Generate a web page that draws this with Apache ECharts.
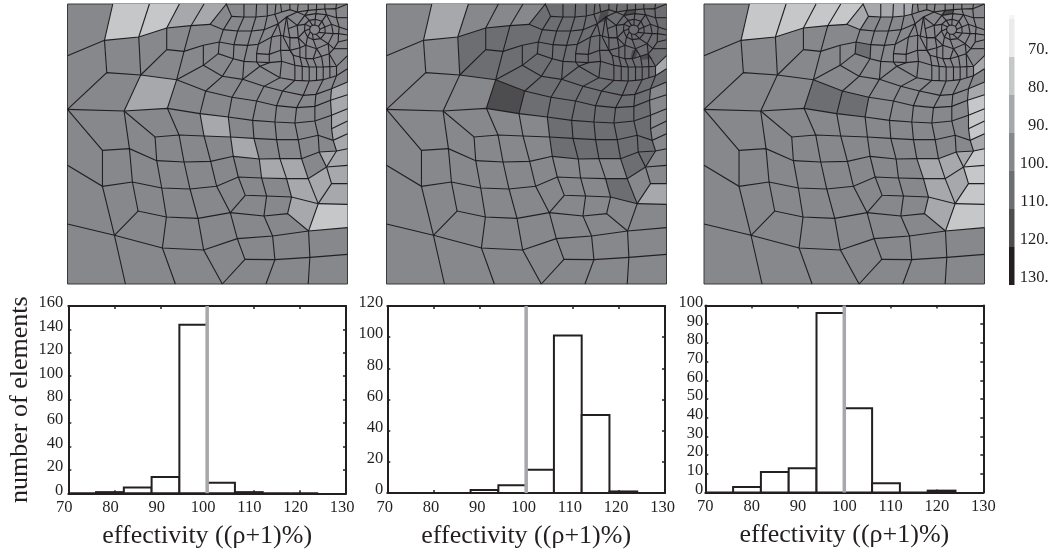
<!DOCTYPE html>
<html><head><meta charset="utf-8">
<style>html,body{margin:0;padding:0;background:#fff}#c{width:1055px;height:551px}</style>
<script src="https://cdn.jsdelivr.net/npm/echarts@6/dist/echarts.min.js"></script>
</head><body><div id="c"></div>
<script>
// ---- data ----
const bandValues = [70, 80, 90, 100, 110, 120, 130];
const bandColors = ['#ebebec', '#c6c7c9', '#a7a8ab', '#87888b', '#6d6e71', '#4d4d4f', '#231f20'];
const xTicks = [70, 130, 10];
const binEdges = [70, 76, 82, 88, 94, 100, 106, 112, 118, 124];
const counts1 = [0, 1, 5, 14, 144, 9, 1, 0, 0];
const counts2 = [0, 0, 0, 2, 5, 15, 101, 50, 1];
const counts3 = [0, 3, 11, 13, 96, 45, 5, 0, 1];
const yMax = [160, 120, 100];
const yStep = [20, 20, 10];
const xTitle = 'effectivity ((\u03c1+1)%)';
const yTitle = 'number of elements';

const meshRows = [
 [[22,166],[133,120],[236,110],[320,83],[393,76],[450,72],[490,88],[533,92],[575,92],[613,88],[655,70],[680,50]],
 [[515,48],[552,50],[588,50],[622,47],[645,42],[665,35],[690,28],[712,35]],
 [[320,148],[372,153],[430,135],[478,125],[522,133],[563,135],[595,132],[635,110],[663,105],[690,112],[715,112]],
 [[242,224],[320,148]],
 [[350,238],[430,195],[475,160],[520,175],[552,183],[590,185],[628,187],[665,183],[705,195],[727,198],[748,200],[770,200],[790,200],[810,199],[830,198],[863,166]],
 [[22,327],[140,217],[242,224],[350,238],[437,272],[516,291],[590,302],[650,316],[710,322],[765,318],[812,300],[863,283]],
 [[430,195],[487,228],[548,237],[600,198],[628,187]],
 [[548,237],[612,258],[668,272],[730,285],[768,282],[815,265],[863,245]],
 [[600,198],[660,232],[705,240],[727,241],[748,242],[770,240],[790,238],[810,232],[830,226],[863,205]],
 [[668,272],[705,240]],
 [[22,327],[192,332],[322,324],[420,340],[505,350],[578,360],[645,365],[705,368],[765,362],[815,345],[863,325]],
 [[192,332],[285,410],[357,404],[432,407],[512,410],[582,414],[650,418],[715,418],[775,405],[820,420],[863,400]],
 [[22,327],[127,450],[208,445],[290,481],[372,485],[452,483],[520,468],[598,476],[660,475],[725,475],[778,455],[830,452],[863,445]],
 [[22,495],[127,558],[217,545],[305,563],[390,566],[470,558],[535,530],[605,533],[680,535],[745,535],[800,500],[863,495]],
 [[535,530],[556,585],[620,587],[695,590],[775,610],[863,612]],
 [[163,705],[234,632],[319,650],[414,654],[511,637],[612,647],[683,640],[746,692]],
 [[22,671],[163,705],[307,743],[431,749],[532,715],[638,707],[746,692],[863,682]],
 [[555,777],[645,778],[750,771],[863,762]],
 [[815,385],[863,362]],
 [[775,610],[815,550],[863,550]],
 [[511,637],[556,585]],
 [[590,160],[628,162],[662,150],[690,150],[720,142],[738,135]]
];
const meshColumns = [
 [[133,120],[158,11]], [[236,110],[268,11]], [[320,83],[358,11]], [[393,76],[432,11]],
 [[450,72],[499,11],[515,48],[490,88],[478,125],[475,160]],
 [[133,120],[140,217]], [[236,110],[242,224],[192,332]], [[320,83],[320,148]],
 [[393,76],[372,153],[350,238],[322,324],[357,404],[372,485],[390,566],[414,654],[431,749],[487,851]],
 [[430,135],[430,195]],
 [[192,332],[208,445],[217,545],[234,632]],
 [[127,450],[127,558],[163,705],[196,851]],
 [[285,410],[290,481],[305,563],[319,650],[307,743],[346,851]],
 [[437,272],[420,340],[432,407],[452,483],[470,558],[511,637],[532,715],[555,777],[487,851]],
 [[437,272],[487,228],[520,175],[522,133],[533,92],[552,50],[552,11]],
 [[516,291],[505,350],[512,410],[520,468],[535,530]],
 [[516,291],[548,237],[552,183],[563,135],[575,92],[588,50],[590,11]],
 [[590,302],[578,360],[582,414],[598,476],[605,533],[620,587],[612,647],[638,707],[645,778],[618,851]],
 [[590,302],[612,258],[660,232],[665,183],[662,150],[663,105],[655,70],[645,42],[648,11]],
 [[600,198],[590,185],[590,160],[595,132],[613,88],[622,47],[622,11]],
 [[650,316],[645,365],[650,418],[660,475],[680,535],[695,590],[683,640]],
 [[650,316],[668,272]],
 [[628,187],[628,162],[635,110],[655,70]],
 [[710,322],[705,368],[715,418],[725,475],[745,535],[775,610],[746,692],[750,771],[745,851]],
 [[710,322],[730,285],[748,242],[748,200],[738,175],[738,135]],
 [[765,318],[765,362],[775,405],[778,455],[800,500],[815,550]],
 [[765,318],[768,282],[790,238],[790,200],[785,168],[770,145]],
 [[800,500],[830,452],[820,420],[815,385],[815,345],[812,300],[815,265],[830,226],[830,198],[808,160]],
 [[705,240],[705,195],[700,165],[690,150],[690,112],[685,85],[680,50]],
 [[727,241],[727,198],[720,170],[720,142],[715,112]],
 [[770,240],[770,200],[760,175]],
 [[810,232],[810,199],[808,160]],
 [[665,35],[662,11]], [[690,28],[690,11]], [[745,30],[745,11]], [[795,26],[795,11]],
 [[712,35],[715,11]], [[770,28],[770,11]], [[828,25],[830,11]],
 [[828,25],[863,11]], [[838,80],[863,88]], [[835,125],[863,118]], [[830,52],[863,52]], [[836,100],[863,104]], [[822,145],[863,145]]
];
const hubRings = [
 [[765,74],[776,78],[780,87],[777,96],[769,102],[758,101],[751,95],[749,86],[752,79],[758,75],[765,74]],
 [[766,57],[786,63],[795,80],[796,98],[782,115],[760,118],[743,110],[734,92],[735,72],[748,60],[766,57]],
 [[768,40],[800,43],[815,72],[820,100],[805,130],[770,145],[738,135],[715,112],[712,75],[735,45],[768,40]],
 [[770,28],[795,26],[828,25],[830,52],[838,80],[836,100],[835,125],[822,145],[808,160],[785,168],[760,175],[738,175],[720,170],[700,165],[690,150],[670,110],[680,50],[712,35],[745,30],[770,28]]
];
const hubSpokes = [
 [[765,74],[766,57],[768,40],[770,28]], [[776,78],[786,63],[800,43],[795,26]],
 [[780,87],[795,80],[815,72],[838,80]], [[777,96],[796,98],[820,100],[836,100]],
 [[769,102],[782,115],[805,130],[822,145]], [[758,101],[760,118],[770,145],[760,175]],
 [[751,95],[743,110],[738,135]], [[749,86],[734,92],[715,112],[690,112]],
 [[752,79],[735,72],[712,75],[685,85]], [[758,75],[748,60],[735,45],[712,35]],
 [[800,43],[830,52]], [[805,130],[808,160]], [[735,45],[745,30]], [[712,75],[680,50]]
];
const cells1 = [
 [80,[[158,11],[268,11],[236,110],[133,120]]], [80,[[268,11],[358,11],[320,83],[236,110]]],
 [80,[[746,692],[775,610],[863,612],[863,682]]],
 [90,[[358,11],[432,11],[393,76],[320,83]]], [90,[[432,11],[499,11],[450,72],[393,76]]],
 [90,[[242,224],[350,238],[322,324],[192,332]]], [90,[[420,340],[505,350],[512,410],[432,407]]],
 [90,[[512,410],[582,414],[598,476],[520,468]]], [90,[[598,476],[660,475],[680,535],[605,533]]],
 [90,[[660,475],[725,475],[745,535],[680,535]]], [90,[[680,535],[745,535],[775,610],[695,590]]],
 [90,[[695,590],[775,610],[746,692],[683,640]]], [90,[[745,535],[800,500],[815,550],[775,610]]],
 [90,[[775,610],[815,550],[863,550],[863,612]]], [90,[[815,550],[800,500],[863,495],[863,550]]],
 [90,[[778,455],[830,452],[800,500]]], [90,[[815,265],[863,245],[863,283],[812,300]]],
 [90,[[812,300],[863,283],[863,325],[815,345]]], [90,[[815,345],[863,325],[863,362],[815,385]]],
 [90,[[815,385],[863,362],[863,400],[820,420]]], [90,[[820,420],[863,400],[863,445],[830,452]]],
 [90,[[830,452],[863,445],[863,495],[800,500]]]
];
const cells2 = [
 [110,[[450,72],[499,11],[863,11],[863,166],[830,198],[830,226],[863,205],[863,245],[815,265],[812,300],[765,318],[710,322],[650,316],[590,302],[516,291],[437,272],[350,238],[242,224],[236,110],[320,83],[393,76]]],
 [110,[[516,291],[590,302],[650,316],[710,322],[765,318],[812,300],[815,345],[815,385],[820,420],[830,452],[800,500],[745,535],[725,475],[660,475],[598,476],[520,468],[512,410],[505,350]]],
 [110,[[680,535],[745,535],[775,610],[695,590]]],
 [110,[[437,272],[516,291],[505,350],[420,340]]],
 [120,[[350,238],[437,272],[420,340],[322,324]]],
 [120,[[665,35],[690,28],[685,60],[655,70]]], [120,[[745,30],[770,28],[768,40],[735,45]]],
 [120,[[760,150],[778,148],[770,175],[755,172]]], [120,[[785,168],[808,160],[822,175],[790,178]]],
 [90,[[158,11],[268,11],[236,110],[133,120]]], [90,[[775,610],[815,550],[863,550],[863,612]]],
 [90,[[830,198],[863,166],[863,205],[830,226]]]
];
const cells3 = [
 [80,[[158,11],[268,11],[236,110],[133,120]]], [80,[[268,11],[358,11],[320,83],[236,110]]],
 [80,[[358,11],[432,11],[393,76],[320,83]]], [80,[[432,11],[499,11],[450,72],[393,76]]],
 [80,[[812,300],[863,283],[863,325],[815,345]]], [80,[[815,345],[863,325],[863,362],[815,385]]],
 [80,[[815,385],[863,362],[863,400],[820,420]]], [80,[[830,452],[863,445],[863,495],[800,500]]],
 [80,[[800,500],[863,495],[863,550],[815,550]]], [80,[[815,550],[863,550],[863,612],[775,610]]],
 [80,[[746,692],[775,610],[863,612],[863,682]]],
 [90,[[660,475],[725,475],[745,535],[680,535]]], [90,[[680,535],[745,535],[775,610],[695,590]]],
 [90,[[745,535],[800,500],[815,550],[775,610]]], [90,[[695,590],[775,610],[746,692],[683,640]]],
 [90,[[725,475],[778,455],[800,500],[745,535]]], [90,[[778,455],[830,452],[800,500]]],
 [90,[[820,420],[863,400],[863,445],[830,452]]], [90,[[815,265],[863,245],[863,283],[812,300]]],
 [90,[[450,72],[499,11],[515,48],[490,88]]], [90,[[499,11],[552,11],[552,50],[515,48]]],
 [90,[[552,11],[590,11],[588,50],[552,50]]], [90,[[590,11],[622,11],[622,47],[588,50]]],
 [90,[[622,11],[648,11],[645,42],[622,47]]], [90,[[830,198],[863,166],[863,205],[830,226]]],
 [110,[[350,238],[437,272],[420,340],[322,324]]], [110,[[437,272],[516,291],[505,350],[420,340]]],
 [110,[[478,125],[522,133],[520,175],[475,160]]],
 [120,[[745,30],[770,28],[768,40],[735,45]]]
];
const meshLines = [...meshRows, ...meshColumns, ...hubRings, ...hubSpokes];
const panelCells = [cells1, cells2, cells3];
const panelCounts = [counts1, counts2, counts3];

// ---- layout ----
const SERIF = '"Liberation Serif","Times New Roman",serif';
const INK = '#231f20';
const meshGrids = [{left:67.5,top:4,width:280,height:280},{left:386.5,top:4,width:280,height:280},{left:704,top:4,width:280.5,height:280}];
const histGrids = [{left:68.3,top:306,width:277.7,height:187.3},{left:387.3,top:306,width:277.7,height:187},{left:705.3,top:305.5,width:278,height:187}];
const labelShift = [8, 5, 0];
const yMargin = [5, 4, 2];

const grids = [], xAxes = [], yAxes = [], series = [];
function bandColor(b){ return bandColors[bandValues.indexOf(b)]; }

meshGrids.forEach((g, p) => {
  const gi = grids.length;
  grids.push({...g, show:true, backgroundColor:bandColor(100), borderColor:'#3a3a3c', borderWidth:1});
  const xi = xAxes.length, yi = yAxes.length;
  xAxes.push({type:'value', gridIndex:gi, min:22, max:863, show:false});
  yAxes.push({type:'value', gridIndex:gi, min:11, max:851, inverse:true, show:false});
  const cells = panelCells[p];
  series.push({
    type:'custom', xAxisIndex:xi, yAxisIndex:yi, silent:true, z:2, animation:false,
    data: cells.map((c,i)=>[i,0]),
    renderItem:(params, api) => {
      const c = cells[api.value(0)];
      return {type:'polygon', shape:{points:c[1].map(pt=>api.coord(pt))}, style:{fill:bandColor(c[0]), stroke:null}};
    }
  });
  series.push({
    type:'custom', xAxisIndex:xi, yAxisIndex:yi, silent:true, z:3, animation:false,
    data: meshLines.map((l,i)=>[i,0]),
    renderItem:(params, api) => {
      const l = meshLines[api.value(0)];
      return {type:'polyline', shape:{points:l.map(pt=>api.coord(pt))}, style:{fill:null, stroke:INK, lineWidth:1.1}};
    }
  });
});

histGrids.forEach((g, p) => {
  const gi = grids.length;
  grids.push({...g});
  const line = {show:true, onZero:false, lineStyle:{color:INK, width:2}};
  const tick = {show:true, inside:true, length:3, lineStyle:{color:INK, width:1.5}};
  const xi = xAxes.length, yi = yAxes.length;
  xAxes.push({
    type:'value', gridIndex:gi, min:xTicks[0], max:xTicks[1], interval:xTicks[2], position:'bottom',
    axisLine:line, axisTick:tick, splitLine:{show:false},
    axisLabel:{fontFamily:SERIF, fontSize:16.5, color:INK, margin:6, padding:[0,labelShift[p],0,0], showMinLabel:true, showMaxLabel:true, hideOverlap:false},
    name:xTitle, nameLocation:'middle', nameGap:30, nameTextStyle:{fontFamily:SERIF, fontSize:26, color:INK}
  });
  xAxes.push({
    type:'value', gridIndex:gi, min:xTicks[0], max:xTicks[1], interval:xTicks[2], position:'top',
    axisLine:line, axisTick:tick, axisLabel:{show:false}, splitLine:{show:false}
  });
  const yOpt = {
    type:'value', gridIndex:gi, min:0, max:yMax[p], interval:yStep[p], position:'left',
    axisLine:line, axisTick:tick, splitLine:{show:false},
    axisLabel:{fontFamily:SERIF, fontSize:16.5, color:INK, margin:yMargin[p], verticalAlign:'bottom', lineHeight:6, showMinLabel:true, showMaxLabel:true, hideOverlap:false}
  };
  if (p === 0) Object.assign(yOpt, {name:yTitle, nameLocation:'middle', nameGap:35, nameRotate:90, nameTextStyle:{fontFamily:SERIF, fontSize:26, color:INK}});
  yAxes.push(yOpt);
  yAxes.push({
    type:'value', gridIndex:gi, min:0, max:yMax[p], interval:yStep[p], position:'right',
    axisLine:line, axisTick:tick, axisLabel:{show:false}, splitLine:{show:false}
  });
  const counts = panelCounts[p];
  series.push({
    type:'custom', xAxisIndex:xi, yAxisIndex:yi, silent:true, z:3, animation:false,
    data: counts.map((v,i)=>[binEdges[i], v]),
    renderItem:(params, api) => {
      const i = params.dataIndex;
      const a = api.coord([binEdges[i], 0]);
      const b = api.coord([binEdges[i+1], api.value(1)]);
      return {type:'rect', shape:{x:a[0], y:b[1], width:b[0]-a[0], height:a[1]-b[1]},
        style:{fill:'#fff', stroke:INK, lineWidth:2}};
    }
  });
  series.push({
    type:'line', xAxisIndex:xi, yAxisIndex:yi, silent:true, z:5, animation:false, symbol:'none', clip:false,
    data:[[100,0],[100,yMax[p]]], lineStyle:{color:bandColor(90), width:3.5}
  });
});

// colour bar
{
  const gi = grids.length;
  grids.push({left:1009, top:19, width:5.5, height:266});
  const xi = xAxes.length, yi = yAxes.length;
  xAxes.push({type:'value', gridIndex:gi, min:0, max:1, show:false});
  yAxes.push({type:'value', gridIndex:gi, min:60, max:130, inverse:true, show:false});
  series.push({
    type:'custom', xAxisIndex:xi, yAxisIndex:yi, silent:true, z:3, animation:false,
    data: bandValues.map(b=>[0,b]),
    renderItem:(params, api) => {
      const b = api.value(1);
      const a = api.coord([0, b-10]), c = api.coord([1, b]);
      const t = api.coord([1, b-1.9]);
      const kids = [
        {type:'rect', shape:{x:a[0], y:a[1], width:c[0]-a[0], height:c[1]-a[1]}, style:{fill:bandColor(b)}},
        {type:'text', style:{x:t[0]+34, y:t[1], text:b+'.', align:'right', verticalAlign:'middle',
          fontFamily:SERIF, fontSize:16.5, fill:INK}}
      ];
      if (params.dataIndex === 0) kids.push({type:'rect', shape:{x:a[0], y:a[1]-4, width:c[0]-a[0], height:4}, style:{fill:'#f5f5f6'}});
      return {type:'group', children:kids};
    }
  });
}

const chart = echarts.init(document.getElementById('c'), null, {renderer:'canvas'});
chart.setOption({animation:false, backgroundColor:'#fff', grid:grids, xAxis:xAxes, yAxis:yAxes, series});
</script></body></html>
